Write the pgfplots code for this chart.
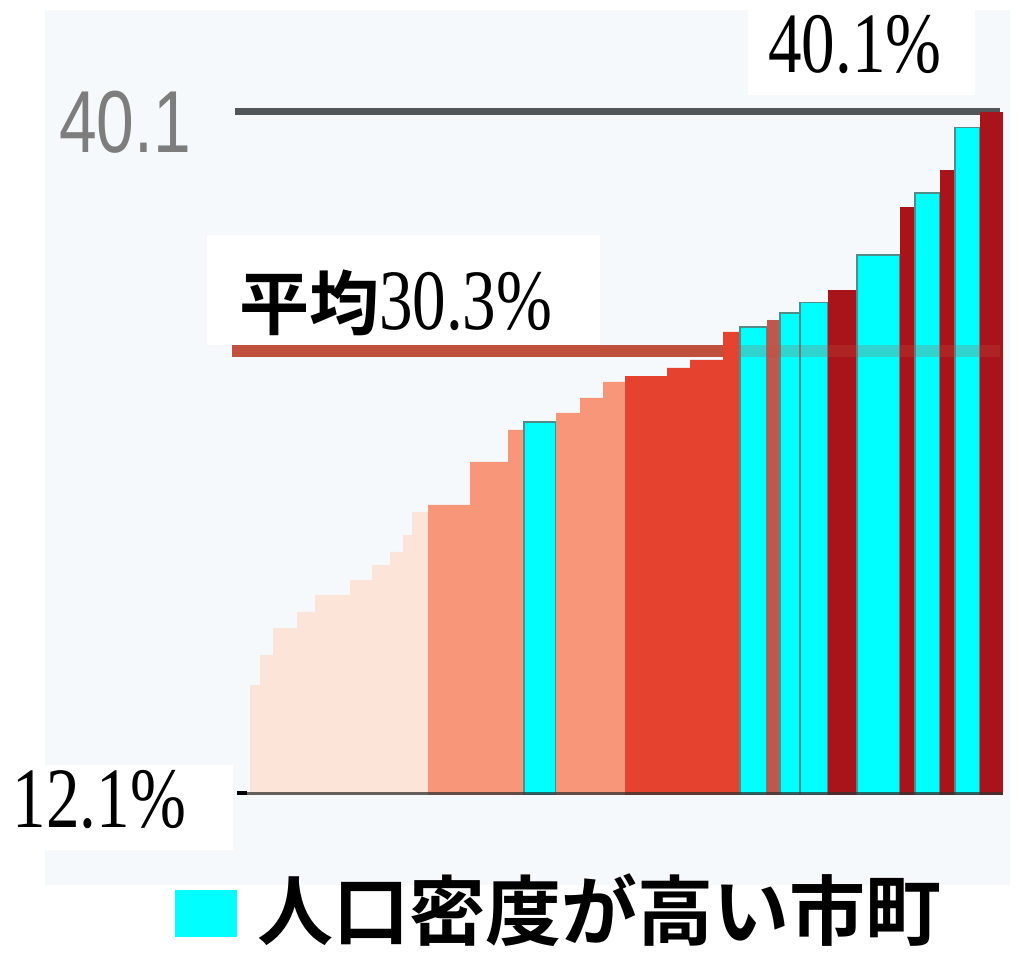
\documentclass[border=0pt]{standalone}
\usepackage{pgfplots}
\pgfplotsset{compat=1.18}
\usepackage{fontspec}
\setmainfont{Liberation Serif}
\newfontfamily\numfont{Liberation Serif}[FakeStretch=0.78]
\newfontfamily\grayfont{Liberation Sans}[FakeStretch=0.77]
\newfontfamily\cjk{Noto Sans CJK JP}[BoldFont={Noto Sans CJK JP Bold}]

\definecolor{panelbg}{RGB}{245,249,252}
\definecolor{lightpink}{RGB}{252,228,217}
\definecolor{salmon}{RGB}{248,150,122}
\definecolor{redbar}{RGB}{229,67,47}
\definecolor{darkred}{RGB}{168,20,26}
\definecolor{mutedred}{RGB}{190,88,76}
\definecolor{cyanbar}{RGB}{0,255,255}
\definecolor{cyanedge}{RGB}{80,140,140}
\definecolor{avgline}{RGB}{192,80,62}
\definecolor{topline}{RGB}{80,86,90}
\definecolor{graylabel}{RGB}{125,125,125}

\pgfplotsset{
  seg/.style={ybar interval, draw=none, fill=#1},
  cseg/.style={ybar interval, draw=cyanedge, line width=0.6pt, fill=cyanbar},
}

\begin{document}
\begin{tikzpicture}
% x in reference pixels, y in percent; 1 px = 0.5pt
\begin{axis}[
    scale only axis,
    width=509.5pt, height=397.5pt,
    xmin=0, xmax=1019,
    ymin=12.1, ymax=44.682,
    hide axis,
    clip mode=individual,
    every node/.style={inner sep=0pt},
]
% page and panel (page spans 5.789 .. 44.682)
\fill[white] (axis cs:0,5.789) rectangle (axis cs:1019,44.682);
\fill[panelbg] (axis cs:45,8.411) rectangle (axis cs:1010,44.272);

% reference lines behind the bars
\addplot[draw=topline, line width=3.5pt] coordinates {(235,40.1) (1000,40.1)};
\addplot[draw=avgline, line width=6pt] coordinates {(232,30.3) (1000,30.3)};

% municipalities, sorted
\addplot[seg=lightpink] coordinates {(250,16.61) (260,17.84) (273,18.94) (297,19.60) (315,20.30) (350,20.91) (372,21.53) (390,22.06) (403,22.76) (412,23.70) (428,23.70)};
\addplot[seg=salmon] coordinates {(428,23.99) (470,25.75) (508,27.06) (524,27.06)};
\addplot[cseg] coordinates {(524,27.39) (556,27.39)};
\addplot[seg=salmon] coordinates {(556,27.76) (580,28.37) (603,29.03) (625,29.03)};
\addplot[seg=redbar] coordinates {(625,29.27) (667,29.60) (690,29.93) (723,31.08) (740,31.08)};
\addplot[cseg] coordinates {(740,31.28) (767,31.28)};
\addplot[seg=mutedred] coordinates {(767,31.57) (780,31.57)};
\addplot[cseg] coordinates {(780,31.85) (800,32.30) (828,32.30)};
\addplot[seg=darkred] coordinates {(828,32.80) (857,32.80)};
\addplot[cseg] coordinates {(857,34.23) (900,34.23)};
\addplot[seg=darkred] coordinates {(900,36.20) (915,36.20)};
\addplot[cseg] coordinates {(915,36.77) (940,36.77)};
\addplot[seg=darkred] coordinates {(940,37.71) (955,37.71)};
\addplot[cseg] coordinates {(955,39.44) (980,39.44)};
\addplot[seg=darkred] coordinates {(980,40.1) (1003,40.1)};

% faint average line over the tall bars, and the baseline
\addplot[draw=avgline, line width=6pt, opacity=0.25] coordinates {(740,30.3) (1000,30.3)};
\addplot[draw=black!80, line width=2pt, opacity=0.75] coordinates {(237,12.14) (1003,12.14)};
\addplot[draw=black, line width=3pt] coordinates {(237,12.16) (247,12.16)};

% labels
\fill[white] (axis cs:748,44.68) rectangle (axis cs:975,40.79);
\node[anchor=base] at (axis cs:855,41.69) {\numfont\fontsize{43}{43}\selectfont 40.1\%};

\node[anchor=base, text=graylabel] at (axis cs:125,38.45) {\grayfont\fontsize{44}{44}\selectfont 40.1};

\fill[white] (axis cs:207,35.05) rectangle (axis cs:600,30.54);
\node[anchor=base west] at (axis cs:232,31.16) {{\cjk\bfseries\fontsize{35}{35}\selectfont 平均}{\numfont\fontsize{43}{43}\selectfont 30.3\%}};

\fill[white] (axis cs:0,13.33) rectangle (axis cs:233,9.85);
\node[anchor=base] at (axis cs:99.5,10.75) {\numfont\fontsize{43}{43}\selectfont 12.1\%};

% legend
\fill[cyanbar] (axis cs:175,8.207) rectangle (axis cs:237,6.28);
\node[anchor=base west] at (axis cs:250,6.16) {\cjk\bfseries\fontsize{38}{38}\selectfont 人口密度が高い市町};
\end{axis}
\end{tikzpicture}
\end{document}
